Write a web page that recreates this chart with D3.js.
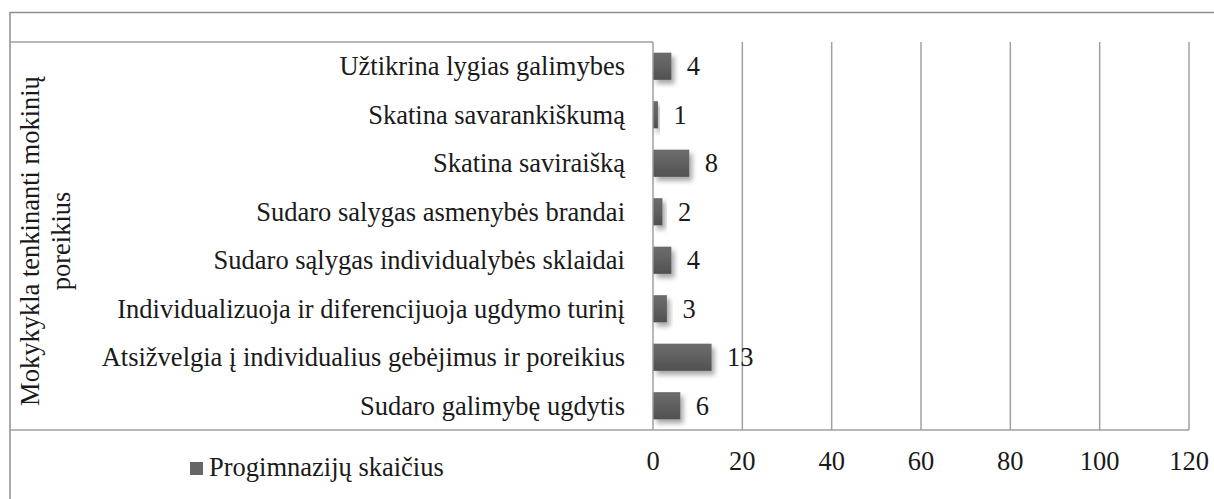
<!DOCTYPE html>
<html>
<head>
  <meta charset="utf-8">
  <script src="https://cdn.jsdelivr.net/npm/d3@7"></script>
  <style>
    body { margin: 0; background: #fff; }
  </style>
</head>
<body>
<script>
  // chart data
  var categories = [
    "Užtikrina lygias galimybes",
    "Skatina savarankiškumą",
    "Skatina saviraišką",
    "Sudaro salygas asmenybės brandai",
    "Sudaro sąlygas individualybės sklaidai",
    "Individualizuoja ir diferencijuoja ugdymo turinį",
    "Atsižvelgia į individualius gebėjimus ir poreikius",
    "Sudaro galimybę ugdytis"
  ];
  var values = [4, 1, 8, 2, 4, 3, 13, 6];
  var tickValues = [0, 20, 40, 60, 80, 100, 120];
  var seriesName = "Progimnazijų skaičius";
  var axisTitle = ["Mokykykla tenkinanti mokinių", "poreikius"];

  var width = 1214, height = 499;
  var plotLeft = 653, plotRight = 1189, plotTop = 42, plotBottom = 430;
  var lineColor = "#a0a0a0";
  var fontSize = 26.5;
  var serif = "'Liberation Serif', 'Times New Roman', Tinos, Times, 'DejaVu Serif', serif";

  var svg = d3.select("body").append("svg")
    .attr("width", width)
    .attr("height", height);

  var defs = svg.append("defs");
  var grad = defs.append("linearGradient")
    .attr("id", "barGrad")
    .attr("x1", 0).attr("y1", 0).attr("x2", 0).attr("y2", 1);
  grad.append("stop").attr("offset", "0%").attr("stop-color", "#6c6c6c");
  grad.append("stop").attr("offset", "50%").attr("stop-color", "#606060");
  grad.append("stop").attr("offset", "100%").attr("stop-color", "#505050");

  var shadow = defs.append("filter").attr("id", "shadow")
    .attr("x", "-20%").attr("y", "-20%").attr("width", "160%").attr("height", "160%");
  shadow.append("feDropShadow")
    .attr("dx", 3).attr("dy", 4).attr("stdDeviation", 2.5)
    .attr("flood-color", "#000").attr("flood-opacity", 0.35);

  var x = d3.scaleLinear().domain([0, 120]).range([plotLeft, plotRight]);
  var y = d3.scaleBand().domain(categories).range([plotTop, plotBottom])
    .paddingInner(0.44).paddingOuter(0.22);

  function label(sel) {
    return sel.style("font-family", serif)
      .style("font-size", fontSize + "px")
      .style("fill", "#1a1a1a");
  }

  // frame lines (outer box + label column box)
  svg.append("line").attr("x1", 10).attr("x2", width).attr("y1", 12.5).attr("y2", 12.5)
    .attr("stroke", "#8e8e8e").attr("stroke-width", 1.5);
  svg.append("line").attr("x1", 10).attr("x2", 10).attr("y1", 12).attr("y2", height)
    .attr("stroke", "#8e8e8e").attr("stroke-width", 1.5);
  svg.append("line").attr("x1", 10).attr("x2", plotLeft).attr("y1", plotTop).attr("y2", plotTop)
    .attr("stroke", lineColor).attr("stroke-width", 1.5);
  svg.append("line").attr("x1", 10).attr("x2", plotRight).attr("y1", plotBottom).attr("y2", plotBottom)
    .attr("stroke", lineColor).attr("stroke-width", 1.5);

  // vertical gridlines
  svg.append("g").selectAll("line")
    .data(tickValues)
    .enter().append("line")
    .attr("x1", function(d) { return x(d); })
    .attr("x2", function(d) { return x(d); })
    .attr("y1", plotTop).attr("y2", plotBottom)
    .attr("stroke", lineColor).attr("stroke-width", 1.5);

  // x tick labels
  svg.append("g").selectAll("text")
    .data(tickValues)
    .enter().append("text")
    .attr("x", function(d) { return x(d); })
    .attr("y", 470)
    .attr("text-anchor", "middle")
    .call(label)
    .text(function(d) { return d; });

  // category labels
  svg.append("g").selectAll("text")
    .data(categories)
    .enter().append("text")
    .attr("x", 625)
    .attr("y", function(d) { return y(d) + y.bandwidth() / 2 + 9; })
    .attr("text-anchor", "end")
    .call(label)
    .text(function(d) { return d; });

  // bars
  svg.append("g").selectAll("rect")
    .data(values)
    .enter().append("rect")
    .attr("x", x(0) + 0.5)
    .attr("y", function(d, i) { return y(categories[i]); })
    .attr("width", function(d) { return x(d) - x(0); })
    .attr("height", y.bandwidth())
    .attr("fill", "url(#barGrad)")
    .attr("filter", "url(#shadow)");

  // value labels
  svg.append("g").selectAll("text")
    .data(values)
    .enter().append("text")
    .attr("x", function(d) { return x(d) + 16; })
    .attr("y", function(d, i) { return y(categories[i]) + y.bandwidth() / 2 + 9; })
    .call(label)
    .text(function(d) { return d; });

  // rotated axis title
  var title = svg.append("text")
    .attr("transform", "translate(39,241) rotate(-90)")
    .attr("text-anchor", "middle")
    .call(label);
  title.append("tspan").attr("x", 0).attr("y", 0).text(axisTitle[0]);
  title.append("tspan").attr("x", 0).attr("y", 31).text(axisTitle[1]);

  // legend
  svg.append("rect")
    .attr("x", 190).attr("y", 462)
    .attr("width", 13).attr("height", 13)
    .attr("fill", "#666");
  svg.append("text")
    .attr("x", 209).attr("y", 476)
    .call(label)
    .text(seriesName);
</script>
</body>
</html>
